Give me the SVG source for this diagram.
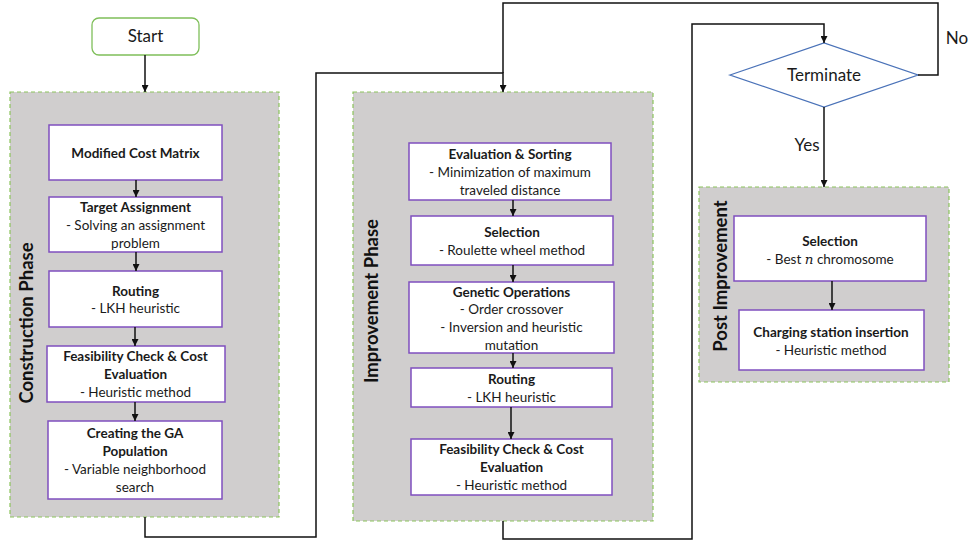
<svg xmlns="http://www.w3.org/2000/svg" width="970" height="542" viewBox="0 0 970 542">
<style>
.bg{fill:#ffffff}
.phase{fill:#d0cece;stroke:#8cc45c;stroke-width:1.2;stroke-dasharray:4 3}
.box{fill:#ffffff;stroke:#7f4fbf;stroke-width:1.5}
.t{font-family:Lato,"Liberation Sans",sans-serif;font-size:13.5px;fill:#1a1a1a;text-anchor:middle}
.b{font-weight:bold}
.lab{font-family:Lato,"Liberation Sans",sans-serif;font-size:17px;fill:#1a1a1a;text-anchor:middle}
.pl{font-family:Lato,"Liberation Sans",sans-serif;font-size:18.5px;font-weight:bold;fill:#111;text-anchor:middle}
.c{fill:none;stroke:#111;stroke-width:1.5}
</style>
<defs>
<marker id="ah" viewBox="0 0 10 10" refX="10" refY="5" markerWidth="7" markerHeight="7" markerUnits="userSpaceOnUse" orient="auto">
<path d="M0,0 L10,5 L0,10 z" fill="#111"/>
</marker>
</defs>
<rect class="bg" x="0" y="0" width="970" height="542"/>

<g id="construction-phase">
<rect class="phase" x="10" y="92" width="269" height="425"/>
<text class="pl" transform="translate(33,323) rotate(-90)">Construction Phase</text>
</g>
<g id="improvement-phase">
<rect class="phase" x="353" y="92" width="300" height="429"/>
<text class="pl" transform="translate(378,301) rotate(-90)">Improvement Phase</text>
</g>
<g id="post-improvement">
<rect class="phase" x="699" y="187" width="250" height="195"/>
<text class="pl" transform="translate(727,276) rotate(-90)">Post Improvement</text>
</g>

<g id="start">
<rect x="92" y="18" width="107" height="37" rx="7" fill="#fff" stroke="#7fbf5a" stroke-width="1.3"/>
<text class="lab" x="145.5" y="42">Start</text>
</g>

<g id="modified-cost-matrix">
<rect class="box" x="49" y="125" width="173" height="55"/>
<text class="t b" x="135.5" y="157.5">Modified Cost Matrix</text>
</g>
<g id="target-assignment">
<rect class="box" x="49" y="197" width="173" height="55"/>
<text class="t b" x="135.5" y="212">Target Assignment</text>
<text class="t" x="135.5" y="230">- Solving an assignment</text>
<text class="t" x="135.5" y="248">problem</text>
</g>
<g id="routing-1">
<rect class="box" x="49" y="271" width="173" height="56"/>
<text class="t b" x="135.5" y="296">Routing</text>
<text class="t" x="135.5" y="313">- LKH heuristic</text>
</g>
<g id="feasibility-1">
<rect class="box" x="47" y="346" width="178" height="56"/>
<text class="t b" x="135.5" y="361">Feasibility Check &amp; Cost</text>
<text class="t b" x="135.5" y="379">Evaluation</text>
<text class="t" x="135.5" y="397">- Heuristic method</text>
</g>
<g id="creating-ga">
<rect class="box" x="48" y="421" width="174" height="78"/>
<text class="t b" x="135" y="438">Creating the GA</text>
<text class="t b" x="135" y="456">Population</text>
<text class="t" x="135" y="474">- Variable neighborhood</text>
<text class="t" x="135" y="492">search</text>
</g>

<g id="evaluation-sorting">
<rect class="box" x="409" y="143" width="202" height="57"/>
<text class="t b" x="510" y="159">Evaluation &amp; Sorting</text>
<text class="t" x="510" y="177">- Minimization of maximum</text>
<text class="t" x="510" y="195">traveled distance</text>
</g>
<g id="selection-1">
<rect class="box" x="411" y="216" width="202" height="49"/>
<text class="t b" x="512" y="237">Selection</text>
<text class="t" x="512" y="255">- Roulette wheel method</text>
</g>
<g id="genetic-operations">
<rect class="box" x="409" y="282" width="205" height="71"/>
<text class="t b" x="511.5" y="297">Genetic Operations</text>
<text class="t" x="511.5" y="314">- Order crossover</text>
<text class="t" x="511.5" y="332">- Inversion and heuristic</text>
<text class="t" x="511.5" y="350">mutation</text>
</g>
<g id="routing-2">
<rect class="box" x="411" y="368" width="201" height="39"/>
<text class="t b" x="511.5" y="384">Routing</text>
<text class="t" x="511.5" y="402">- LKH heuristic</text>
</g>
<g id="feasibility-2">
<rect class="box" x="411" y="439" width="201" height="56"/>
<text class="t b" x="511.5" y="454">Feasibility Check &amp; Cost</text>
<text class="t b" x="511.5" y="472">Evaluation</text>
<text class="t" x="511.5" y="490">- Heuristic method</text>
</g>

<g id="terminate">
<polygon points="730,75 824,43 918,75 824,107" fill="#fff" stroke="#4a72b8" stroke-width="1.3"/>
<text class="lab" x="824" y="81">Terminate</text>
</g>

<g id="selection-2">
<rect class="box" x="734" y="216" width="192" height="65"/>
<text class="t b" x="830" y="246">Selection</text>
<text class="t" x="830" y="264">- Best <tspan font-family="'DejaVu Serif',serif" font-style="italic">n</tspan> chromosome</text>
</g>
<g id="charging-station">
<rect class="box" x="739" y="310" width="185" height="60"/>
<text class="t b" x="831" y="337">Charging station insertion</text>
<text class="t" x="831" y="355">- Heuristic method</text>
</g>

<g id="connectors">
<path class="c" d="M145,55 V92" marker-end="url(#ah)"/>
<path class="c" d="M136,180 V197" marker-end="url(#ah)"/>
<path class="c" d="M136,252 V271" marker-end="url(#ah)"/>
<path class="c" d="M135,327 V346" marker-end="url(#ah)"/>
<path class="c" d="M135,402 V421" marker-end="url(#ah)"/>
<path class="c" d="M145,517 V537 H316 V73 H503 V92" marker-end="url(#ah)"/>
<path class="c" d="M513,200 V216" marker-end="url(#ah)"/>
<path class="c" d="M513,265 V282" marker-end="url(#ah)"/>
<path class="c" d="M513,353 V368" marker-end="url(#ah)"/>
<path class="c" d="M511,407 V439" marker-end="url(#ah)"/>
<path class="c" d="M503,521 V539 H692 V24 H824 V43" marker-end="url(#ah)"/>
<path class="c" d="M918,75 H938 V3 H503 V73"/>
<path class="c" d="M824,107 V187" marker-end="url(#ah)"/>
<path class="c" d="M832,281 V310" marker-end="url(#ah)"/>
<text class="lab" x="957" y="44">No</text>
<text class="lab" x="807" y="151">Yes</text>
</g>
</svg>
